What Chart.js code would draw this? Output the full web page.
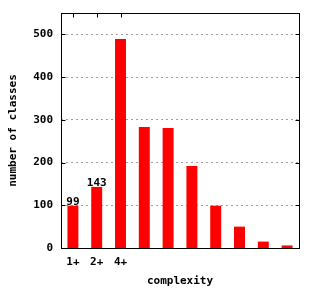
<!DOCTYPE html>
<html>
<head>
<meta charset="utf-8">
<script src="https://cdn.jsdelivr.net/npm/chart.js@4"></script>
<style>
  html, body { margin: 0; padding: 0; background: #fff; }
</style>
</head>
<body>
<canvas id="chart" width="320" height="288"></canvas>
<script>
/* ── data ───────────────────────────────────────────── */
const categories  = ['1+', '2+', '4+', '', '', '', '', '', '', ''];
const classCounts = [99, 143, 489, 283, 281, 192, 99, 50, 15, 6];
const barLabels   = ['99', '143', '', '', '', '', '', '', '', ''];
const yTicks      = [0, 100, 200, 300, 400, 500];
const yMax        = 550;

const FONT = { family: 'DejaVu Sans Mono', size: 11, weight: 'bold' };
const fontStr = `bold ${FONT.size}px "${FONT.family}"`;

// box border, inward ticks, value labels
const frame = {
  id: 'frame',
  afterDatasetsDraw(chart) {
    const { ctx, chartArea: a, scales: { x, y } } = chart;
    const L = Math.round(a.left) + 0.5, R = Math.round(a.right) + 0.5;
    const T = Math.round(a.top) + 0.5,  B = Math.round(a.bottom) + 0.5;
    ctx.save();
    ctx.strokeStyle = '#000';
    ctx.lineWidth = 1;
    ctx.strokeRect(L, T, R - L, B - T);

    ctx.beginPath();
    yTicks.slice(1).forEach(v => {
      const py = Math.round(y.getPixelForValue(v)) + 0.5;
      ctx.moveTo(L, py); ctx.lineTo(L + 4, py);
      ctx.moveTo(R, py); ctx.lineTo(R - 4, py);
    });
    categories.forEach((c, i) => {
      if (!c) return;
      const px = Math.round(x.getPixelForValue(i)) + 0.5;
      ctx.moveTo(px, T); ctx.lineTo(px, T + 4);
    });
    ctx.stroke();

    // value labels on first bars
    const meta = chart.getDatasetMeta(0);
    ctx.fillStyle = '#000';
    ctx.font = fontStr;
    ctx.textAlign = 'center';
    ctx.textBaseline = 'alphabetic';
    meta.data.forEach((bar, i) => {
      if (barLabels[i]) ctx.fillText(barLabels[i], bar.x, bar.y - 0.5);
    });
    ctx.restore();
  }
};

new Chart(document.getElementById('chart'), {
  type: 'bar',
  data: {
    labels: categories,
    datasets: [{
      data: classCounts,
      backgroundColor: '#ff0000',
      borderWidth: 0,
      inflateAmount: 0,
      barPercentage: 1,
      categoryPercentage: 0.46,
    }],
  },
  options: {
    responsive: false,
    animation: false,
    layout: { padding: { top: 13, right: 21, bottom: 0, left: 0 } },
    plugins: { legend: { display: false }, tooltip: { enabled: false } },
    scales: {
      x: {
        type: 'category',
        offset: true,
        grid: { display: false, drawTicks: false },
        border: { display: false },
        ticks: { color: '#000', font: FONT, padding: 8, maxRotation: 0, autoSkip: false },
        title: { display: true, text: 'complexity', color: '#000', font: FONT, padding: { top: 0, bottom: 0 } },
        afterFit: s => { s.height = 40; s.paddingLeft = 0; s.paddingRight = 0; },
      },
      y: {
        min: 0,
        max: yMax,
        afterBuildTicks: s => { s.ticks = yTicks.map(v => ({ value: v })); },
        grid: {
          color: c => (c.tick && c.tick.value === 0) ? 'rgba(0,0,0,0)' : '#a0a0a0',
          lineWidth: c => (c.tick && c.tick.value === 0) ? 0 : 1,
          drawTicks: false,
        },
        border: { display: false, dash: [2, 3] },
        ticks: { color: '#000', font: FONT, padding: 8 },
        title: { display: true, text: 'number of classes', color: '#000', font: FONT, padding: { top: 7, bottom: 0 } },
        afterFit: s => { s.width = 61; s.paddingTop = 0; s.paddingBottom = 0; },
      },
    },
  },
  plugins: [frame],
});
</script>
</body>
</html>
